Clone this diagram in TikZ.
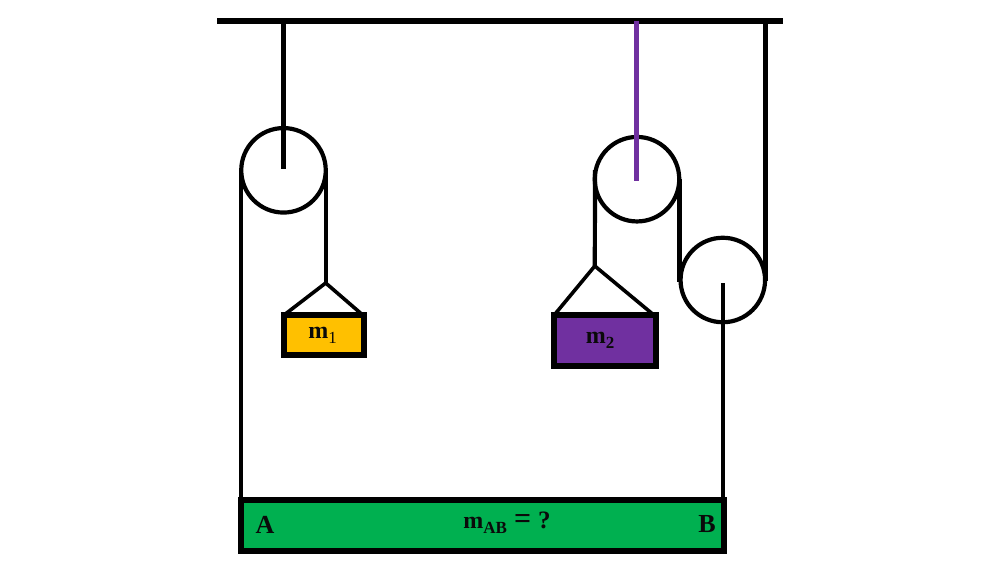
\documentclass[tikz,border=0pt]{standalone}
\usepackage{fontspec}
\setmainfont{Liberation Serif}
\definecolor{massA}{HTML}{FFC000}
\definecolor{massB}{HTML}{7030A0}
\definecolor{barG}{HTML}{00B050}
\definecolor{ink}{HTML}{0A0A0A}
\tikzset{
  pulley/.style={circle,draw=black,line width=4.2pt,minimum size=84.5pt,inner sep=0pt},
  rope/.style={draw=black,line width=4.2pt},
  massbox/.style={draw=black,line width=5.8pt,inner sep=0pt,line join=miter},
  lbl/.style={text=ink,inner sep=0pt,font=\fontsize{24}{26}\selectfont\bfseries},
  endlbl/.style={text=ink,inner sep=0pt,font=\fontsize{26}{28}\selectfont\bfseries}
}
\newcommand{\lowsub}[1]{\raisebox{-0.2em}{\fontsize{17}{18}\selectfont #1}}
\begin{document}
\begin{tikzpicture}[x=1pt,y=-1pt]
\useasboundingbox (0,0) rectangle (1000,576);
\fill[white] (0,0) rectangle (1000,576);
% ceiling
\coordinate (cL) at (217,20.5);
\coordinate (cR) at (783,20.5);
\draw[black,line width=6pt] (cL) -- (cR);
% pulleys
\node[pulley] (p1) at (283.5,170.3) {};
\node[pulley] (p2) at (637,179.2) {};
\node[pulley] (p3) at (722.8,280) {};
% masses and bar
\node[massbox,fill=massA,minimum width=79.4pt,minimum height=40pt] (m1) at (324,335) {};
\node[massbox,fill=massB,minimum width=102.6pt,minimum height=51pt] (m2) at (605,340.5) {};
\node[massbox,fill=barG,minimum width=483pt,minimum height=51.3pt] (bar) at (482.5,525.3) {};
% hooks
\coordinate (a1) at (325.7,283);
\coordinate (a2) at (594.8,266);
% p1 ropes
\coordinate (t1) at (283.5,20.5);
\coordinate (c1) at (283.5,169);
\draw[rope] (t1) -- (c1);
\coordinate (l1) at (241,168);
\coordinate (l1b) at (241,499);
\draw[rope] (l1) -- (l1b);
\coordinate (r1) at (325.7,170);
\draw[rope] (r1) -- (a1);
\draw[rope,line width=3.6pt] (286,313.5) -- (a1) -- (361,313.5);
% p2 ropes
\coordinate (t2) at (636.5,20.5);
\coordinate (c2) at (636.5,181);
\draw[massB,line width=4.4pt] (t2) -- (c2);
\coordinate (l2) at (595,170);
\draw[rope] (l2) -- (a2);
\draw[rope,line width=3.6pt] (555.5,313.5) -- (a2) -- (652,313.5);
\coordinate (r2) at (679.8,179);
\coordinate (r2b) at (679.8,282);
\draw[rope,line width=5pt] (r2) -- (r2b);
% p3 ropes
\coordinate (t3) at (765.4,20.5);
\coordinate (r3) at (765.4,281);
\draw[rope] (t3) -- (r3);
\coordinate (c3) at (723.3,283);
\coordinate (c3b) at (723.3,499);
\draw[rope] (c3) -- (c3b);
% labels
\node[lbl] (tm1) at (322.5,335) {m\lowsub{\mdseries 1}};
\node[lbl] (tm2) at (600,340) {m\lowsub{2}};
\node[endlbl] (tA) at (265,524.5) {A};
\node[endlbl] (tB) at (707,524.5) {B};
\node[lbl] (tAB) at (507,523) {m\lowsub{AB}\hspace{7pt}{\fontsize{30}{30}\selectfont =}\hspace{7pt}{\fontsize{25}{26}\selectfont ?}};
\end{tikzpicture}
\end{document}
